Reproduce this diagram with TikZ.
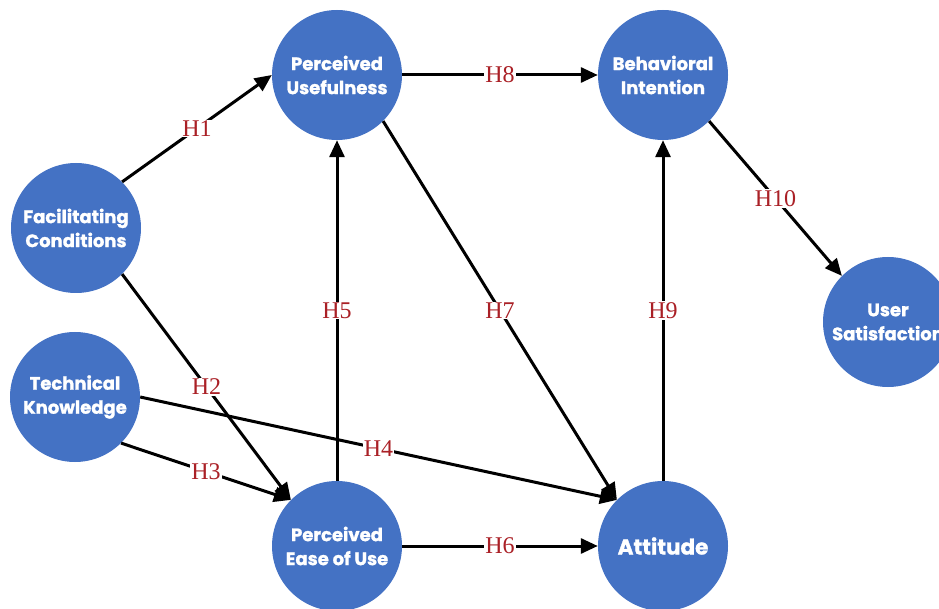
\documentclass[tikz,border=0pt]{standalone}
\usepackage{fontspec}
\setmainfont{Liberation Serif}
\newfontfamily\nodefont{Poppins}[BoldFeatures={FakeBold=1.2}]
\usetikzlibrary{arrows.meta}
\definecolor{varblue}{RGB}{68,114,196}
\definecolor{hypred}{RGB}{170,32,38}
\tikzset{
  var/.style={circle, fill=varblue, minimum size=130pt, inner sep=0pt, text=white,
    font=\nodefont\bfseries\fontsize{18}{24}\selectfont, align=center},
  link/.style={line width=3pt, -{Triangle[length=17pt,width=15pt]}},
  hyp/.style={fill=white, text=hypred, font=\fontsize{24}{24}\selectfont, inner sep=1pt}
}
\begin{document}
\begin{tikzpicture}[x=1pt,y=-1pt]
\useasboundingbox (0,0) rectangle (939,609);
\clip (0,0) rectangle (939,609);
\node[var] (pu) at (337,75) {Perceived\\Usefulness};
\node[var] (bi) at (663,75) {Behavioral\\Intention};
\node[var] (fc) at (76,228) {Facilitating\\Conditions};
\node[var] (tk) at (75,397) {Technical\\Knowledge};
\node[var] (us) at (888,322) {User\\Satisfaction};
\node[var] (peou) at (337,546) {Perceived\\Ease of Use};
\node[var, font=\nodefont\bfseries\fontsize{21.5}{24}\selectfont] (att) at (663,546) {Attitude};

\draw[link] (fc.north east) -- node[hyp]{H1} (pu.west);
\draw[link] (fc.south east) -- node[hyp]{H2} (peou.north west);
\draw[link] (tk.south east) -- node[hyp]{H3} (peou.north west);
\draw[link] (tk.east) -- node[hyp]{H4} (att.north west);
\draw[link] (peou.north) -- node[hyp]{H5} (pu.south);
\draw[link] (peou.east) -- node[hyp]{H6} (att.west);
\draw[link] (pu.south east) -- node[hyp]{H7} (att.north west);
\draw[link] (pu.east) -- node[hyp]{H8} (bi.west);
\draw[link] (att.north) -- node[hyp]{H9} (bi.south);
\draw[link] (bi.south east) -- node[hyp]{H10} (us.north west);
\end{tikzpicture}
\end{document}
